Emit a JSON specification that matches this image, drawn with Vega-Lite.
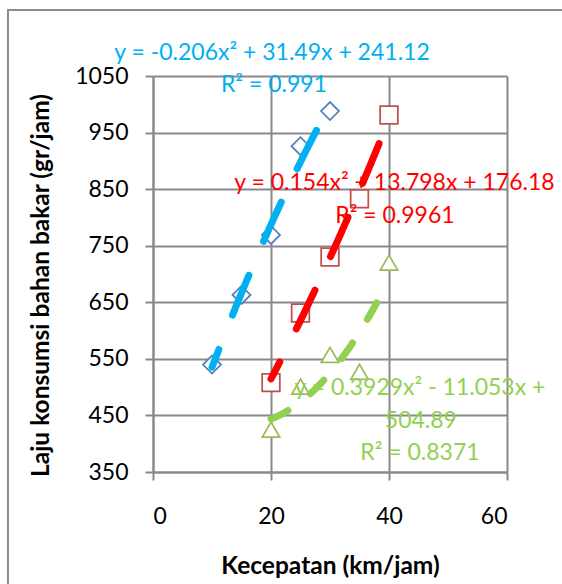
{
  "$schema": "https://vega.github.io/schema/vega-lite/v6.json",
  "autosize": "none",
  "width": 354,
  "height": 396,
  "padding": {"left": 153, "top": 76, "right": 55, "bottom": 112},
  "background": "white",
  "config": {
    "view": {"stroke": null},
    "font": "Lato",
    "axis": {
      "domainColor": "#898989", "domainWidth": 2,
      "tickColor": "#898989", "tickWidth": 2, "tickSize": 8,
      "gridColor": "#898989", "gridWidth": 2,
      "labelFont": "Lato", "labelFontSize": 23, "labelColor": "#000000",
      "titleFont": "Lato", "titleFontSize": 24.5, "titleColor": "#000000", "titleFontWeight": "bold"
    }
  },
  "datasets": {
    "points": [
      {"series": "Seri 1", "x": 10, "y": 540},
      {"series": "Seri 1", "x": 15, "y": 663},
      {"series": "Seri 1", "x": 20, "y": 769},
      {"series": "Seri 1", "x": 25, "y": 926},
      {"series": "Seri 1", "x": 30, "y": 988},
      {"series": "Seri 2", "x": 20, "y": 508},
      {"series": "Seri 2", "x": 25, "y": 631},
      {"series": "Seri 2", "x": 30, "y": 730},
      {"series": "Seri 2", "x": 35, "y": 833},
      {"series": "Seri 2", "x": 40, "y": 981},
      {"series": "Seri 3", "x": 20, "y": 425},
      {"series": "Seri 3", "x": 25, "y": 501},
      {"series": "Seri 3", "x": 30, "y": 557},
      {"series": "Seri 3", "x": 35, "y": 527},
      {"series": "Seri 3", "x": 40, "y": 720}
    ],
    "labels": [
      {"series": "Seri 1", "label": "y = -0.206x² + 31.49x + 241.12", "x": 20.17, "y": 1078.3},
      {"series": "Seri 1", "label": "R² = 0.991", "x": 20.5, "y": 1021.7},
      {"series": "Seri 2", "label": "y = 0.154x² + 13.798x + 176.18", "x": 40.93, "y": 848.5},
      {"series": "Seri 2", "label": "R² = 0.9961", "x": 41.0, "y": 790.1},
      {"series": "Seri 3", "label": "y = 0.3929x² - 11.053x +", "x": 45.25, "y": 486.1},
      {"series": "Seri 3", "label": "504.89", "x": 45.4, "y": 427.8},
      {"series": "Seri 3", "label": "R² = 0.8371", "x": 45.25, "y": 371.2}
    ],
    "frame": [
      {"x": -24.58, "x2": 80, "y": 1166.7, "y2": 0}
    ]
  },
  "encoding": {
    "x": {
      "field": "x", "type": "quantitative",
      "scale": {"domain": [0, 60], "nice": false, "zero": false},
      "axis": {
        "title": "Kecepatan (km/jam)", "values": [0, 20, 40, 60], "format": "d",
        "labelBaseline": "alphabetic", "labelPadding": 43,
        "titleBaseline": "alphabetic", "titleY": 101
      }
    },
    "y": {
      "field": "y", "type": "quantitative",
      "scale": {"domain": [350, 1050], "nice": false, "zero": false},
      "axis": {
        "title": "Laju konsumsi bahan bakar (gr/jam)",
        "values": [350, 450, 550, 650, 750, 850, 950, 1050], "format": "d",
        "labelPadding": 17, "titleX": -100, "titleY": 209
      }
    }
  },
  "layer": [
    {
      "data": {"name": "frame"},
      "mark": {"type": "rect", "filled": false, "color": "#8c8c8c", "strokeWidth": 2},
      "encoding": {
        "x2": {"field": "x2"},
        "y2": {"field": "y2"}
      }
    },
    {
      "data": {"name": "points"},
      "mark": {"type": "point", "filled": false, "fill": "white", "fillOpacity": 1, "strokeWidth": 1.75, "opacity": 1},
      "encoding": {
        "shape": {"field": "series", "type": "nominal", "scale": {"domain": ["Seri 1", "Seri 2", "Seri 3"], "range": ["diamond", "square", "triangle-up"]}, "legend": null},
        "stroke": {"field": "series", "type": "nominal", "scale": {"domain": ["Seri 1", "Seri 2", "Seri 3"], "range": ["#4F81BD", "#C0504D", "#9BBB59"]}, "legend": null},
        "size": {"field": "series", "type": "nominal", "scale": {"domain": ["Seri 1", "Seri 2", "Seri 3"], "range": [324, 300, 380]}, "legend": null}
      }
    },
    {
      "data": {"name": "points"},
      "transform": [
        {"filter": "datum.series === 'Seri 1'"},
        {"regression": "y", "on": "x", "method": "poly", "order": 2}
      ],
      "mark": {"type": "line", "color": "#00B0F0", "strokeWidth": 7, "strokeCap": "round", "strokeDash": [43, 37], "strokeDashOffset": 24}
    },
    {
      "data": {"name": "points"},
      "transform": [
        {"filter": "datum.series === 'Seri 2'"},
        {"regression": "y", "on": "x", "method": "poly", "order": 2}
      ],
      "mark": {"type": "line", "color": "#FF0000", "strokeWidth": 7, "strokeCap": "round", "strokeDash": [43, 37], "strokeDashOffset": 24}
    },
    {
      "data": {"name": "points"},
      "transform": [
        {"filter": "datum.series === 'Seri 3'"},
        {"regression": "y", "on": "x", "method": "poly", "order": 2}
      ],
      "mark": {"type": "line", "color": "#92D050", "strokeWidth": 7, "strokeCap": "round", "strokeDash": [19, 28], "strokeDashOffset": 0}
    },
    {
      "data": {"name": "labels"},
      "mark": {"type": "text", "font": "Lato", "fontSize": 23, "align": "center", "baseline": "alphabetic"},
      "encoding": {
        "text": {"field": "label"},
        "color": {"field": "series", "type": "nominal", "scale": {"domain": ["Seri 1", "Seri 2", "Seri 3"], "range": ["#00B0F0", "#FF0000", "#92D050"]}, "legend": null}
      }
    }
  ]
}
